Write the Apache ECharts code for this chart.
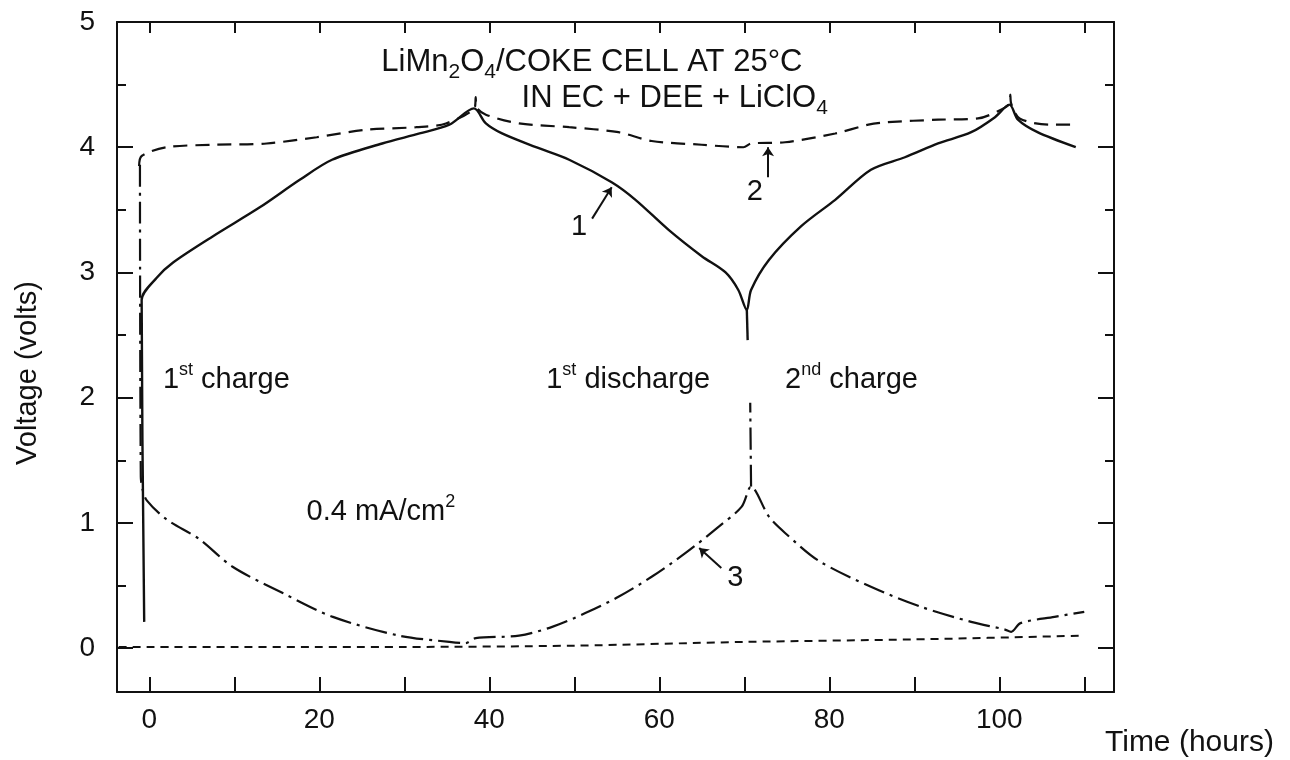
<!DOCTYPE html>
<html>
<head>
<meta charset="utf-8">
<script src="https://cdn.jsdelivr.net/npm/echarts@6/dist/echarts.min.js"></script>
<style>
  html, body { margin: 0; background: #fff; }
  #chart { width: 1290px; height: 760px; }
</style>
</head>
<body>
<div id="chart"></div>
<script>
// curve 1: cell voltage (solid), [hours, volts]
const cellVoltage = [
  [-0.6, 0.21], [-0.9, 2.78], [0.9, 2.96], [2.8, 3.08], [7.5, 3.29], [13.0, 3.52],
  [17.7, 3.74], [21.5, 3.90], [27.4, 4.03], [31.8, 4.11], [35.3, 4.18], [38.2, 4.31],
  [39.6, 4.19], [41.5, 4.11], [45.5, 4.00], [49.4, 3.90], [54.4, 3.72], [57.2, 3.58],
  [61.1, 3.34], [65.0, 3.13], [67.8, 3.00], [69.3, 2.86], [70.3, 2.70],
  [70.8, 2.86], [72.9, 3.10], [76.7, 3.37], [80.7, 3.58], [84.9, 3.82], [88.9, 3.92],
  [92.8, 4.03], [96.7, 4.12], [99.5, 4.24], [101.2, 4.34],
  [102.2, 4.22], [104.5, 4.12], [109.0, 4.00]
];
const cellDrop = [[70.3, 2.70], [70.4, 2.46]];

// curve 2: LiMn2O4 electrode (dashed)
const cathode = [
  [-1.2, 3.85], [-0.9, 3.93], [2.0, 4.00], [7.9, 4.02], [13.8, 4.03], [19.7, 4.08],
  [25.5, 4.14], [31.4, 4.16], [34.9, 4.19], [38.3, 4.32], [38.4, 4.40], [38.5, 4.32],
  [39.6, 4.26], [43.5, 4.19], [49.4, 4.16], [55.2, 4.12], [59.1, 4.05], [65.0, 4.02],
  [69.9, 4.00], [70.8, 4.03], [74.8, 4.04], [80.7, 4.11], [84.6, 4.18], [86.9, 4.20],
  [92.8, 4.22], [97.5, 4.23], [100.2, 4.30], [101.2, 4.35], [101.3, 4.42], [101.4, 4.35],
  [102.4, 4.23], [106.0, 4.18], [109.2, 4.18]
];

// curve 3: coke electrode (dash-dot)
const anode = [
  [-1.1, 3.86], [-1.0, 1.37], [-0.8, 1.27], [-0.3, 1.18], [2.0, 1.03], [5.9, 0.87],
  [9.8, 0.65], [15.7, 0.44], [21.6, 0.25], [29.4, 0.10], [35.3, 0.05], [37.2, 0.04],
  [38.4, 0.08], [43.5, 0.10], [47.4, 0.17], [51.3, 0.28], [55.2, 0.41], [59.1, 0.57],
  [63.1, 0.76], [67.0, 0.97], [69.7, 1.13], [70.8, 1.29],
  [72.9, 1.05], [74.8, 0.92], [78.7, 0.70], [84.9, 0.49], [90.8, 0.33], [96.7, 0.21],
  [100.6, 0.15], [101.4, 0.13], [102.5, 0.20], [106.5, 0.25], [110.0, 0.29]
];
const anodeRise = [[70.8, 1.29], [70.7, 1.96]];

// lithium reference (short dashes near 0 V)
const lithiumRef = [[-3.6, 0.01], [30, 0.01], [50, 0.02], [70, 0.05], [90, 0.07], [110, 0.10]];

// ticks
const xTicks = [0, 10, 20, 30, 40, 50, 60, 70, 80, 90, 100, 110];
const xLabels = [0, 20, 40, 60, 80, 100];
const yMajor = [0, 1, 2, 3, 4, 5];
const yMinor = [0.5, 1.5, 2.5, 3.5, 4.5];

// annotations, anchored in data coordinates
const notes = [
  { at: [27.3, 4.68], text: 'LiMn{sub|2}O{sub|4}/COKE CELL AT 25°C', size: 31 },
  { at: [43.8, 4.39], text: 'IN EC + DEE + LiClO{sub|4}', size: 31 },
  { at: [1.6, 2.14], text: '1{sup|st} charge', size: 29 },
  { at: [46.7, 2.14], text: '1{sup|st} discharge', size: 29 },
  { at: [74.8, 2.14], text: '2{sup|nd} charge', size: 29 },
  { at: [18.5, 1.09], text: '0.4 mA/cm{sup|2}', size: 29 },
  { at: [49.6, 3.36], text: '1', size: 29 },
  { at: [70.3, 3.64], text: '2', size: 29 },
  { at: [68.0, 0.56], text: '3', size: 29 }
];
const leaders = [
  [[52.1, 3.43], [54.4, 3.68]],
  [[72.8, 3.76], [72.8, 4.00]],
  [[67.3, 0.64], [64.7, 0.80]]
];

const ink = '#111';
const font = '"Liberation Sans", Arial, sans-serif';
const X_MIN = -3.8, X_MAX = 113.5, Y_MIN = -0.35, Y_MAX = 5.0;

const chart = echarts.init(document.getElementById('chart'));

function xAxis(pos, tickLen, labels) {
  return {
    type: 'value', position: pos, min: X_MIN, max: X_MAX,
    axisLine: { onZero: false, lineStyle: { color: ink, width: 2 } },
    axisTick: { inside: true, length: tickLen, customValues: xTicks, lineStyle: { color: ink, width: 2 } },
    axisLabel: labels
      ? { customValues: xLabels, fontSize: 28, color: ink, fontFamily: font, margin: 14 }
      : { show: false },
    splitLine: { show: false }
  };
}

function yAxis(pos, ticks, tickLen, line, labels) {
  return {
    type: 'value', position: pos, min: Y_MIN, max: Y_MAX,
    axisLine: { show: line, onZero: false, lineStyle: { color: ink, width: 2 } },
    axisTick: { inside: true, length: tickLen, customValues: ticks, lineStyle: { color: ink, width: 2 } },
    axisLabel: labels
      ? { customValues: yMajor, fontSize: 28, color: ink, fontFamily: font, margin: 22 }
      : { show: false },
    splitLine: { show: false }
  };
}

function curve(name, data, type, width) {
  return {
    name: name, type: 'line', data: data, showSymbol: false, symbol: 'none',
    smooth: 0.3, lineStyle: { color: ink, width: width, type: type }, z: 3
  };
}

const dashDot = [22, 6, 3, 6];

const option = {
  animation: false,
  backgroundColor: '#fff',
  grid: { left: 117, right: 176, top: 22, bottom: 68 },
  xAxis: [xAxis('bottom', 15, true), xAxis('top', 11, false)],
  yAxis: [
    yAxis('left', yMajor, 16, true, true),
    yAxis('left', yMinor, 9, false, false),
    yAxis('right', yMajor, 16, true, false),
    yAxis('right', yMinor, 9, false, false)
  ],
  series: [
    curve('cell', cellVoltage, 'solid', 2.4),
    curve('cell drop', cellDrop, 'solid', 2.4),
    curve('cathode', cathode, [14, 8], 2.2),
    curve('anode', anode, dashDot, 2.2),
    curve('anode rise', anodeRise, dashDot, 2.2),
    curve('Li', lithiumRef, [8, 6], 2),
    {
      type: 'lines', coordinateSystem: 'cartesian2d',
      symbol: ['none', 'arrow'], symbolSize: 9,
      lineStyle: { color: ink, width: 2, opacity: 1 },
      data: leaders.map(l => ({ coords: l }))
    },
    {
      type: 'scatter', symbolSize: 0, z: 5,
      itemStyle: { color: '#fff', opacity: 1 },
      data: notes.map(n => ({
        value: n.at,
        label: {
          show: true, position: [0, 0], align: 'left', verticalAlign: 'middle',
          formatter: n.text, fontSize: n.size, color: ink, opacity: 1, fontFamily: font,
          rich: {
            sup: { fontSize: Math.round(n.size * 0.62), color: ink, fontFamily: font, verticalAlign: 'top', lineHeight: n.size * 1.3 },
            sub: { fontSize: Math.round(n.size * 0.68), color: ink, fontFamily: font, verticalAlign: 'bottom', lineHeight: n.size * 1.3 }
          }
        }
      }))
    }
  ],
  graphic: [
    {
      type: 'text', x: 28, y: 373, rotation: Math.PI / 2,
      style: { text: 'Voltage (volts)', fontSize: 29, fontFamily: font, fill: ink, align: 'center', verticalAlign: 'middle' }
    },
    {
      type: 'text', x: 1105, y: 743,
      style: { text: 'Time (hours)', fontSize: 30, fontFamily: font, fill: ink, align: 'left', verticalAlign: 'middle' }
    }
  ]
};

chart.setOption(option);
</script>
</body>
</html>
